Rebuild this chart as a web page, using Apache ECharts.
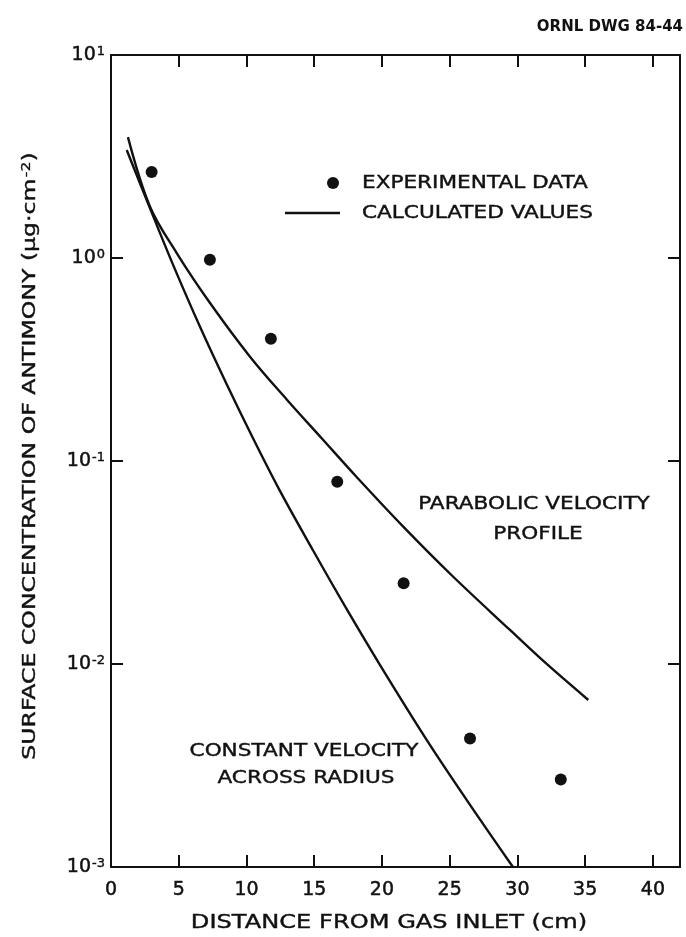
<!DOCTYPE html>
<html>
<head>
<meta charset="utf-8">
<script src="https://cdn.jsdelivr.net/npm/echarts@6/dist/echarts.min.js"></script>
<style>
  html, body { margin: 0; padding: 0; background: #ffffff; }
  #chart { width: 686px; height: 937px; }
</style>
</head>
<body>
<div id="chart"></div>
<script>
// Distance from gas inlet (cm) and antimony surface concentration (ug/cm^2)
const expDistance      = [3.0, 7.3, 11.8, 16.7, 21.6, 26.5, 33.2];
const expConcentration = [2.65, 0.98, 0.40, 0.079, 0.025, 0.0043, 0.0027];

// Calculated profile: parabolic velocity
const parabolicDistance      = [1.25, 2.88, 4.85, 7.31, 10.26, 12.97, 15.55, 18.13, 21.57, 25.26, 29.45, 31.91, 35.23];
const parabolicConcentration = [3.94, 1.789, 1.058, 0.600, 0.3265, 0.2009, 0.1294, 0.0834, 0.0475, 0.0269, 0.01471, 0.01035, 0.00665];

// Calculated profile: constant velocity across radius
const constantDistance      = [1.16, 2.88, 4.60, 6.57, 8.54, 10.50, 12.47, 14.93, 17.40, 19.86, 23.30, 26.25, 29.67];
const constantConcentration = [3.404, 1.757, 0.9195, 0.4583, 0.2389, 0.1288, 0.07131, 0.03614, 0.01862, 0.00988, 0.004232, 0.002143, 0.001];

// Axis ticks
const xTickValues    = [0, 5, 10, 15, 20, 25, 30, 35, 40];
const yTickExponents = [-3, -2, -1, 0, 1];

const FONT = '"DejaVu Sans", "Liberation Sans", sans-serif';
const INK = '#111111';
const STRETCH = 1.27;

const pairs = (xs, ys) => xs.map((x, i) => [x, ys[i]]);

// Lettering is wider than the stock font, so text is stretched horizontally
function stretchedText(text, x, y, size, align) {
  return {
    type: 'text',
    x: x,
    y: y,
    scaleX: STRETCH,
    silent: true,
    style: {
      text: text,
      fill: INK,
      stroke: INK,
      lineWidth: 0.4,
      font: size + 'px ' + FONT,
      textAlign: align,
      align: align,
      textVerticalAlign: 'middle',
      verticalAlign: 'middle'
    }
  };
}

const chart = echarts.init(document.getElementById('chart'), null, { renderer: 'canvas' });

const axisLineStyle = { color: INK, width: 2 };
const tickStyle = { show: true, inside: true, length: 12, lineStyle: { color: INK, width: 2 } };

const xAxisBase = {
  type: 'value',
  min: 0,
  max: 42,
  interval: 5,
  splitLine: { show: false },
  axisLine: { show: true, onZero: false, lineStyle: axisLineStyle },
  axisTick: tickStyle
};

const yAxisBase = {
  type: 'log',
  logBase: 10,
  min: 0.001,
  max: 10,
  splitLine: { show: false },
  minorTick: { show: false },
  axisLine: { show: true, onZero: false, lineStyle: axisLineStyle },
  axisTick: tickStyle
};

const option = {
  animation: false,
  backgroundColor: '#ffffff',
  grid: { left: 111, right: 6, top: 55, bottom: 70, containLabel: false },
  xAxis: [
    Object.assign({}, xAxisBase, {
      position: 'bottom',
      axisLabel: {
        show: true,
        margin: 14,
        color: INK,
        fontFamily: FONT,
        fontSize: 19,
        textBorderColor: INK,
        textBorderWidth: 0.5,
        showMaxLabel: false,
        formatter: v => (xTickValues.indexOf(v) >= 0 ? String(v) : '')
      }
    }),
    Object.assign({}, xAxisBase, {
      position: 'top',
      axisLabel: { show: false }
    })
  ],
  yAxis: [
    Object.assign({}, yAxisBase, {
      position: 'left',
      axisLabel: {
        show: true,
        margin: 6,
        color: INK,
        fontFamily: FONT,
        formatter: v => {
          const e = Math.round(Math.log10(v));
          return yTickExponents.indexOf(e) >= 0 ? '{b|10}{s|' + e + '}' : '';
        },
        rich: {
          b: { fontFamily: FONT, fontSize: 19, color: INK, lineHeight: 19, verticalAlign: 'bottom', textBorderColor: INK, textBorderWidth: 0.5 },
          s: { fontFamily: FONT, fontSize: 13, color: INK, lineHeight: 13, verticalAlign: 'top', padding: [0, 0, 12, 1], textBorderColor: INK, textBorderWidth: 0.4 }
        }
      }
    }),
    Object.assign({}, yAxisBase, {
      position: 'right',
      axisLabel: { show: false }
    })
  ],
  series: [
    {
      name: 'PARABOLIC VELOCITY PROFILE',
      type: 'line',
      data: pairs(parabolicDistance, parabolicConcentration),
      showSymbol: false,
      symbol: 'none',
      smooth: 0.35,
      lineStyle: { color: INK, width: 2.4 },
      z: 3
    },
    {
      name: 'CONSTANT VELOCITY ACROSS RADIUS',
      type: 'line',
      data: pairs(constantDistance, constantConcentration),
      showSymbol: false,
      symbol: 'none',
      smooth: 0.35,
      lineStyle: { color: INK, width: 2.4 },
      z: 3
    },
    {
      name: 'EXPERIMENTAL DATA',
      type: 'scatter',
      data: pairs(expDistance, expConcentration),
      symbol: 'circle',
      symbolSize: 12,
      itemStyle: { color: INK, opacity: 1 },
      z: 4
    }
  ],
  graphic: [
    // drawing number
    {
      type: 'text', right: 3, top: 20, silent: true,
      style: { text: 'ORNL DWG 84-44', fill: INK, font: 'bold 15px ' + FONT }
    },
    // legend
    { type: 'circle', silent: true, shape: { cx: 333, cy: 183, r: 6 }, style: { fill: INK } },
    { type: 'line', silent: true, shape: { x1: 285, y1: 213, x2: 340, y2: 213 }, style: { stroke: INK, lineWidth: 2.4 } },
    stretchedText('EXPERIMENTAL DATA', 362, 184, 17, 'left'),
    stretchedText('CALCULATED VALUES', 362, 214, 17, 'left'),
    // curve annotations
    stretchedText('PARABOLIC VELOCITY', 534, 505, 17, 'center'),
    stretchedText('PROFILE', 538, 535, 17, 'center'),
    stretchedText('CONSTANT VELOCITY', 304, 752, 17, 'center'),
    stretchedText('ACROSS RADIUS', 306, 779, 17, 'center'),
    // axis titles
    stretchedText('DISTANCE FROM GAS INLET (cm)', 389, 923, 19, 'center'),
    {
      type: 'text',
      x: 30,
      y: 456,
      rotation: Math.PI / 2,
      scaleX: 1.31,
      silent: true,
      style: {
        text: '{b|SURFACE CONCENTRATION OF ANTIMONY (\u03BCg\u00B7cm}{s|-2}{b|)}',
        fill: INK,
        textAlign: 'center',
        align: 'center',
        textVerticalAlign: 'middle',
        verticalAlign: 'middle',
        rich: {
          b: { fontFamily: FONT, fontSize: 18, fill: INK, stroke: INK, lineWidth: 0.4, lineHeight: 18, verticalAlign: 'bottom' },
          s: { fontFamily: FONT, fontSize: 12, fill: INK, stroke: INK, lineWidth: 0.3, lineHeight: 12, verticalAlign: 'top', padding: [0, 0, 10, 1] }
        }
      }
    }
  ]
};

chart.setOption(option);
</script>
</body>
</html>
